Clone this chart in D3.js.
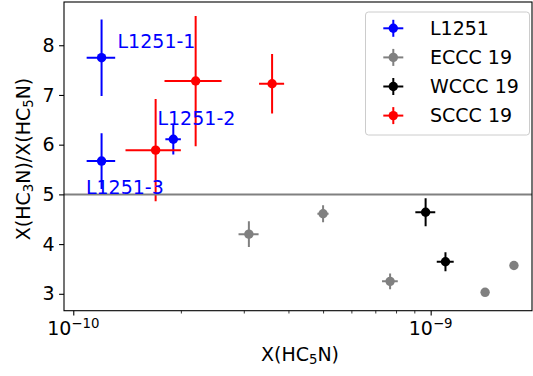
<!DOCTYPE html>
<html><head><meta charset="utf-8">
<script src="https://cdn.jsdelivr.net/npm/d3@7"></script>
<style>body{margin:0;background:#fff}svg{display:block}text{font-family:"DejaVu Sans",sans-serif}</style>
</head><body><svg id="c" width="533" height="376"></svg>
<script>
// ---- data ----
const seriesNames = ["L1251", "ECCC 19", "WCCC 19", "SCCC 19"];
const seriesColors = ["#0000ff", "#808080", "#000000", "#ff0000"];

const l1251X    = [1.2e-10, 1.905e-10, 1.2e-10];
const l1251XErr = [0.11e-10, 0.095e-10, 0.11e-10];
const l1251Y    = [7.75, 6.11, 5.67];
const l1251YErr = [0.77, 0.31, 0.56];
const l1251Labels = ["L1251-1", "L1251-2", "L1251-3"];
const l1251LabelX = [1.33e-10, 1.72e-10, 1.085e-10];
const l1251LabelY = [7.94, 6.39, 5.0];

const ecccX    = [3.1e-10, 5.0e-10, 7.7e-10, 1.42e-9, 1.71e-9];
const ecccXErr = [0.2e-10, 0.18e-10, 0.39e-10, 0.2e-10, 0.2e-10];
const ecccY    = [4.20, 4.61, 3.25, 3.03, 3.57];
const ecccYErr = [0.26, 0.17, 0.16, 0.05, 0.05];

const wcccX    = [9.68e-10, 1.10e-9];
const wcccXErr = [0.62e-10, 0.6e-10];
const wcccY    = [4.64, 3.644];
const wcccYErr = [0.28, 0.19];

const scccX    = [1.70e-10, 2.2e-10, 3.6e-10];
const scccXErr = [0.3e-10, 0.4e-10, 0.29e-10];
const scccY    = [5.89, 7.28, 7.225];
const scccYErr = [1.03, 1.31, 0.6];

const yTicks = [3, 4, 5, 6, 7, 8];
const xMajorTicks = [1e-10, 1e-9];
const xTickExp = ["\u221210", "\u22129"];
const xMinorTicks = [2e-10, 3e-10, 4e-10, 5e-10, 6e-10, 7e-10, 8e-10, 9e-10];
const refLineY = 5;
const xDomain = [9.42e-11, 1.921e-9];
const yDomain = [2.66, 8.87];

// ---- build ----
const series = [
  {x: l1251X, xe: l1251XErr, y: l1251Y, ye: l1251YErr},
  {x: ecccX, xe: ecccXErr, y: ecccY, ye: ecccYErr},
  {x: wcccX, xe: wcccXErr, y: wcccY, ye: wcccYErr},
  {x: scccX, xe: scccXErr, y: scccY, ye: scccYErr}
].map((s, i) => ({
  name: seriesNames[i], color: seriesColors[i],
  pts: s.x.map((v, j) => ({x: v, xe: s.xe[j], y: s.y[j], ye: s.ye[j]}))
}));

const L = 64, R = 532, T = 2, B = 310.7;
const svg = d3.select("#c");
const x = d3.scaleLog().domain(xDomain).range([L, R]);
const y = d3.scaleLinear().domain(yDomain).range([B, T]);
const FS = 19;

const plot = svg.append("g");
plot.append("defs").append("clipPath").attr("id", "clip")
  .append("rect").attr("x", L).attr("y", T).attr("width", R - L).attr("height", B - T);
const inner = plot.append("g").attr("clip-path", "url(#clip)");

series.forEach(s => {
  const g = inner.append("g");
  s.pts.forEach(p => {
    g.append("line").attr("x1", x(p.x - p.xe)).attr("x2", x(p.x + p.xe))
      .attr("y1", y(p.y)).attr("y2", y(p.y)).attr("stroke", s.color).attr("stroke-width", 2);
    g.append("line").attr("x1", x(p.x)).attr("x2", x(p.x))
      .attr("y1", y(p.y - p.ye)).attr("y2", y(p.y + p.ye)).attr("stroke", s.color).attr("stroke-width", 2);
  });
  g.selectAll("circle").data(s.pts).join("circle")
    .attr("cx", d => x(d.x)).attr("cy", d => y(d.y)).attr("r", 4.7).attr("fill", s.color);
});

inner.append("line").attr("x1", L).attr("x2", R).attr("y1", y(refLineY)).attr("y2", y(refLineY))
  .attr("stroke", "#808080").attr("stroke-width", 2);

// labels
l1251Labels.forEach((t, i) => {
  plot.append("text").attr("x", x(l1251LabelX[i])).attr("y", y(l1251LabelY[i]))
    .attr("fill", "#0000ff").attr("font-size", FS).text(t);
});

// axes
const yAxis = d3.axisLeft(y).tickValues(yTicks).tickSize(4.9).tickPadding(4.5).tickFormat(d3.format("d"));
const ga = svg.append("g").attr("transform", `translate(${L},0)`).call(yAxis);
ga.select(".domain").remove();
ga.selectAll("text").attr("font-size", FS).attr("font-family", "DejaVu Sans").attr("fill", "#000");
ga.selectAll("line").attr("stroke", "#000").attr("stroke-width", 1.1);

const xAxis = d3.axisBottom(x).tickValues(xMajorTicks).tickSize(4.9).tickFormat("");
const gx = svg.append("g").attr("transform", `translate(0,${B})`).call(xAxis);
gx.select(".domain").remove();
gx.selectAll("line").attr("stroke", "#000").attr("stroke-width", 1.1);
const xMinor = d3.axisBottom(x).tickValues(xMinorTicks).tickSize(2.8).tickFormat("");
const gm = svg.append("g").attr("transform", `translate(0,${B})`).call(xMinor);
gm.select(".domain").remove();
gm.selectAll("line").attr("stroke", "#000").attr("stroke-width", 0.8);

xMajorTicks.forEach((v, i) => {
  const t = svg.append("text").attr("x", x(v)).attr("y", 335).attr("text-anchor", "middle")
    .attr("font-size", FS).attr("fill", "#000");
  t.append("tspan").text("10");
  t.append("tspan").attr("dy", -7.5).attr("font-size", 13.3).text(xTickExp[i]);
});

// frame
svg.append("rect").attr("x", L).attr("y", T).attr("width", R - L).attr("height", B - T)
  .attr("fill", "none").attr("stroke", "#000").attr("stroke-width", 1.1);

// axis titles
const xl = svg.append("text").attr("x", 300).attr("y", 360.5).attr("text-anchor", "middle").attr("font-size", FS);
xl.append("tspan").text("X(HC");
xl.append("tspan").attr("font-size", 13.3).attr("dy", 3).text("5");
xl.append("tspan").attr("dy", -3).text("N)");

const yl = svg.append("text").attr("transform", "translate(30,159) rotate(-90)").attr("text-anchor", "middle").attr("font-size", FS);
yl.append("tspan").text("X(HC");
yl.append("tspan").attr("font-size", 13.3).attr("dy", 3).text("3");
yl.append("tspan").attr("dy", -3).text("N)/X(HC");
yl.append("tspan").attr("font-size", 13.3).attr("dy", 3).text("5");
yl.append("tspan").attr("dy", -3).text("N)");

// legend
const lg = svg.append("g");
lg.append("rect").attr("x", 365.5).attr("y", 12).attr("width", 164).attr("height", 123).attr("rx", 3)
  .attr("fill", "#fff").attr("fill-opacity", 0.8).attr("stroke", "#cccccc").attr("stroke-width", 1);
series.forEach((s, i) => {
  const cy = 28.3 + i * 29.1, cx = 393.3;
  lg.append("line").attr("x1", cx - 10).attr("x2", cx + 10).attr("y1", cy).attr("y2", cy).attr("stroke", s.color).attr("stroke-width", 2);
  lg.append("line").attr("x1", cx).attr("x2", cx).attr("y1", cy - 8.5).attr("y2", cy + 8.5).attr("stroke", s.color).attr("stroke-width", 2);
  lg.append("circle").attr("cx", cx).attr("cy", cy).attr("r", 4.7).attr("fill", s.color);
  lg.append("text").attr("x", 430).attr("y", cy + 6.8).attr("font-size", FS).attr("fill", "#000").text(s.name);
});
</script></body></html>
